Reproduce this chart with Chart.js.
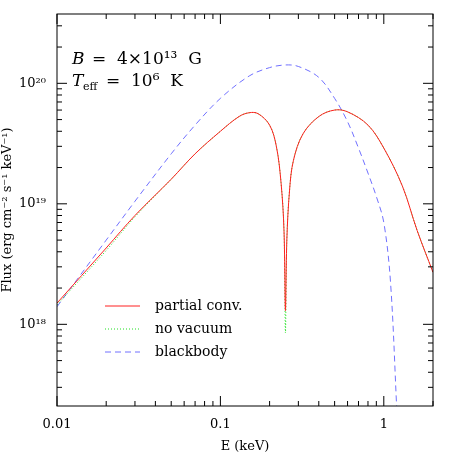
<!DOCTYPE html><html><head><meta charset="utf-8">
<script src="https://cdn.jsdelivr.net/npm/chart.js@4"></script>
<style>html,body{margin:0;background:#fff}#w{width:458px;height:458px}</style></head><body><div id="w"><canvas id="c"></canvas></div>
<script>
const energyPC=[0.01,0.02,0.03,0.05,0.07,0.1,0.13,0.15,0.17,0.2,0.22,0.235,0.245,0.25,0.255,0.265,0.28,0.32,0.4,0.5,0.6,0.8,1.0,1.3,1.6,2.0];
const fluxPC=[1.5e18,4.3e18,8e18,1.6e19,2.6e19,4e19,5.3e19,5.7e19,5.6e19,4.5e19,3e19,1.5e19,6e18,1.3e18,5e18,1.3e19,2.3e19,3.8e19,5.3e19,6e19,5.8e19,4.5e19,2.9e19,1.4e19,6e18,2.7e18];
const fluxNV=[1.45e18,4.1e18,7.8e18,1.6e19,2.6e19,4e19,5.3e19,5.7e19,5.6e19,4.5e19,3e19,1.5e19,6e18,8.5e17,5e18,1.3e19,2.3e19,3.8e19,5.3e19,6e19,5.8e19,4.5e19,2.9e19,1.4e19,6e18,2.7e18];
const energyBB=[0.01,0.02,0.03,0.05,0.07,0.1,0.15,0.2,0.25,0.3,0.4,0.5,0.6,0.7,0.8,0.9,1.0,1.1,1.2];
const fluxBB=[1.4e18,5e18,1.05e19,2.6e19,4.5e19,7.5e19,1.15e20,1.35e20,1.42e20,1.38e20,1.12e20,7.5e19,4.8e19,2.9e19,1.8e19,1.15e19,7e18,2.2e18,2e17];
const xTicks=[0.01,0.1,1];const yTicks=[1e18,1e19,1e20];
const yLabels={'1e+18':'10¹⁸','1e+19':'10¹⁹','1e+20':'10²⁰'};
const xLabels={'0.01':'0.01','0.1':'0.1','1':'1'};
const series=[['partial conv.',energyPC,fluxPC,'#ff2020',[]],['no vacuum',energyPC,fluxNV,'#20e020',[1,2]],['blackbody',energyBB,fluxBB,'#7070ff',[6,4]]];
const F='DejaVu Serif';
const deco={id:'deco',afterDraw(ch){const c=ch.ctx,a=ch.chartArea,X=ch.scales.x,Y=ch.scales.y;c.save();c.strokeStyle='#000';c.lineWidth=1;c.strokeRect(a.left,a.top,a.right-a.left,a.bottom-a.top);
for(let d=-2;d<=0;d++)for(let m=1;m<10;m++){const v=m*Math.pow(10,d);if(v>2)continue;const p=X.getPixelForValue(v),L=m==1?10:5;c.beginPath();c.moveTo(p,a.bottom);c.lineTo(p,a.bottom-L);c.moveTo(p,a.top);c.lineTo(p,a.top+L);c.stroke();}
for(let d=17;d<=20;d++)for(let m=1;m<10;m++){const v=m*Math.pow(10,d);if(v<Y.min||v>Y.max)continue;const p=Y.getPixelForValue(v),L=m==1?10:5;c.beginPath();c.moveTo(a.left,p);c.lineTo(a.left+L,p);c.moveTo(a.right,p);c.lineTo(a.right-L,p);c.stroke();}
c.fillStyle='#000';c.textBaseline='alphabetic';
c.font='italic 17px '+F;c.fillText('B',72,64);c.font='17px '+F;c.fillText('=  4×10¹³  G',92,64);
c.font='italic 17px '+F;c.fillText('T',72,86);c.font='11px '+F;c.fillText('eff',83,90);c.font='17px '+F;c.fillText('=  10⁶  K',106,86);
c.font='14px '+F;series.forEach((s,i)=>{const y=306+i*23;c.strokeStyle=s[3];c.setLineDash(s[4]);c.beginPath();c.moveTo(105,y);c.lineTo(140,y);c.stroke();c.setLineDash([]);c.fillText(s[0],155,y+4);});
c.restore();}};
new Chart(document.getElementById('c'),{type:'line',data:{datasets:series.map(s=>({label:s[0],data:s[1].map((x,i)=>({x,y:s[2][i]})),borderColor:s[3],borderDash:s[4],borderWidth:1,pointRadius:0,tension:0.35,fill:false}))},
options:{animation:false,responsive:true,maintainAspectRatio:false,layout:{padding:{top:14,right:25,left:0,bottom:0}},plugins:{legend:{display:false},tooltip:{enabled:false}},
scales:{x:{type:'logarithmic',min:0.01,max:2,grid:{display:false},border:{display:false},afterBuildTicks(s){s.ticks=xTicks.map(v=>({value:v}));},ticks:{color:'#000',font:{family:F,size:13},maxRotation:0,callback:v=>xLabels[String(v)]||''},title:{display:true,text:'E (keV)',color:'#000',font:{family:F,size:13}},afterFit(s){s.height=52;}},
y:{type:'logarithmic',min:2.1e17,max:3.76e20,grid:{display:false},border:{display:false},afterBuildTicks(s){s.ticks=yTicks.map(v=>({value:v}));},ticks:{color:'#000',font:{family:F,size:13},callback:v=>yLabels[v.toExponential()]||''},title:{display:true,text:'Flux (erg cm⁻² s⁻¹ keV⁻¹)',color:'#000',font:{family:F,size:13},padding:0},afterFit(s){s.width=57;}}}},plugins:[deco]});
</script></body></html>
